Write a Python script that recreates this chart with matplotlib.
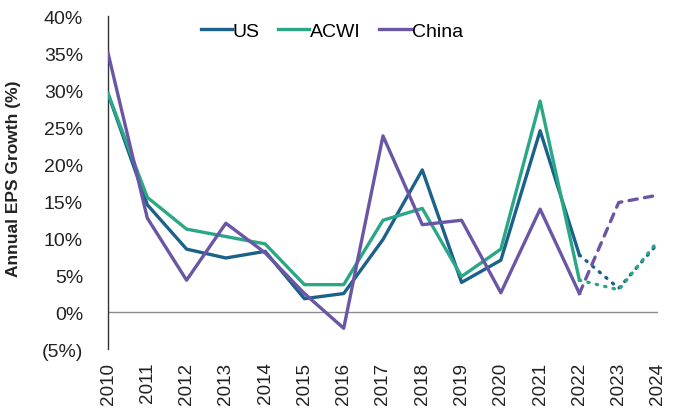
import numpy as np
import matplotlib

matplotlib.use("Agg")
import matplotlib.pyplot as plt
from matplotlib.ticker import FuncFormatter

plt.rcParams["font.family"] = ["Liberation Sans", "DejaVu Sans"]

# actuals 2010-2022, estimates 2022-2024
YEARS = [str(y) for y in range(2010, 2025)]
US_ACT = [29.5, 14.5, 8.5, 7.3, 8.2, 1.8, 2.5, 9.8, 19.2, 4.0, 7.0, 24.5, 7.7]
ACWI_ACT = [29.5, 15.5, 11.2, 10.2, 9.2, 3.7, 3.7, 12.4, 14.0, 4.8, 8.5, 28.5, 4.3]
CHINA_ACT = [35.0, 12.7, 4.3, 12.0, 8.0, 2.5, -2.2, 23.8, 11.8, 12.4, 2.6, 13.9, 2.5]
US_EST = [7.7, 3.2, 9.3]
ACWI_EST = [4.3, 3.0, 9.6]
CHINA_EST = [2.5, 14.8, 15.8]

C_US = "#1b6189"
C_ACWI = "#2aa886"
C_CHINA = "#6b56a6"


def pct_fmt(v, _pos):
    v = int(round(v))
    return f"({abs(v)}%)" if v < 0 else f"{v}%"


def main() -> None:
    fig = plt.figure(figsize=(6.81, 4.10), dpi=100)
    ax = fig.add_axes([0.1586, 0.1463, 0.8076, 0.8122])

    x_act = np.arange(len(US_ACT))
    x_est = np.arange(len(US_ACT) - 1, len(YEARS))
    lw = 2.4

    ax.axhline(0, color="#8c8c8c", lw=1.0, zorder=1)

    ax.plot(x_act, US_ACT, color=C_US, lw=lw, label="US", zorder=3)
    ax.plot(x_act, ACWI_ACT, color=C_ACWI, lw=lw, label="ACWI", zorder=3)
    ax.plot(x_act, CHINA_ACT, color=C_CHINA, lw=lw, label="China", zorder=3)

    # estimates
    ax.plot(x_est, US_EST, color=C_US, lw=lw, ls=(0, (0.4, 2.2)),
            dash_capstyle="round", zorder=3)
    ax.plot(x_est, ACWI_EST, color=C_ACWI, lw=lw, ls=(0, (0.4, 2.2)),
            dash_capstyle="round", zorder=3)
    ax.plot(x_est, CHINA_EST, color=C_CHINA, lw=lw, ls=(0, (2.5, 2.2)),
            dash_capstyle="round", zorder=3)

    ax.set_xlim(0, len(YEARS) - 1)
    ax.set_ylim(-5, 40)
    ax.set_yticks(np.arange(-5, 41, 5))
    ax.yaxis.set_major_formatter(FuncFormatter(pct_fmt))
    ax.set_xticks(np.arange(len(YEARS)))
    ax.set_xticklabels(YEARS, rotation=90, fontsize=13.6, color="#222222")
    ax.tick_params(axis="y", length=0, labelsize=14, labelcolor="#222222", pad=18)
    ax.tick_params(axis="x", length=0, pad=9)

    for side in ("top", "right", "bottom"):
        ax.spines[side].set_visible(False)
    ax.spines["left"].set_color("#333333")
    ax.spines["left"].set_linewidth(1.0)

    ax.set_ylabel("Annual EPS Growth (%)", fontsize=12.5, fontweight="bold",
                  color="#222222")
    ax.yaxis.set_label_coords(21 / 681, 0.565, transform=fig.transFigure)

    fig.legend(loc="center", bbox_to_anchor=(0.487, 0.922), ncol=3, frameon=False,
               fontsize=14, handlelength=1.6, handletextpad=0.05,
               columnspacing=0.95)

    fig.savefig("out.png", dpi=100)
    plt.close(fig)


if __name__ == "__main__":
    main()
